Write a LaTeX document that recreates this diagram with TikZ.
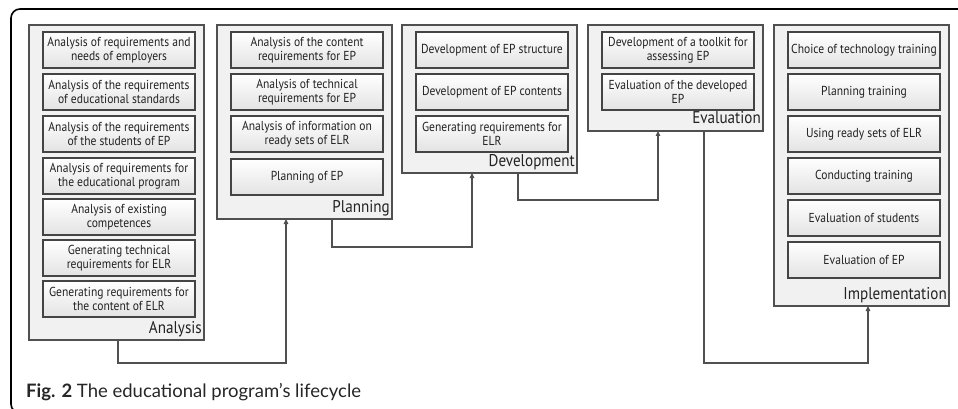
\documentclass[tikz,border=0pt]{standalone}
\usepackage{fontspec}
\setmainfont{Lato}
\newfontfamily\boxfont[FakeStretch=0.89]{PT Sans}
\usetikzlibrary{arrows.meta,calc}
\definecolor{edgegray}{HTML}{505050}
\definecolor{boxgray}{HTML}{444444}
\definecolor{panelfill}{HTML}{F1F1F1}
\definecolor{txt}{HTML}{222222}
\tikzset{
  panel/.style={draw=edgegray, line width=1.2pt, fill=panelfill, anchor=north west,
    inner sep=0pt, outer sep=0pt, minimum width=175pt},
  item/.style={draw=boxgray, line width=1.3pt, top color=white, bottom color=black!11,
    anchor=north west, inner sep=0pt, outer sep=0pt, minimum width=152pt, minimum height=36pt,
    align=center, text=txt, font=\boxfont\fontsize{13}{14}\selectfont},
  plabel/.style={anchor=base east, inner sep=0pt, text=txt, font=\boxfont\fontsize{17}{18}\selectfont},
  conn/.style={draw=edgegray, line width=1.1pt},
  arr/.style={conn, -{Triangle[length=5pt,width=4.5pt]}}
}
\begin{document}
\begin{tikzpicture}[x=1pt,y=-1pt]
\useasboundingbox (0,0) rectangle (958,409);
\fill[white] (0,0) rectangle (958,409);
% outer frame
\draw[line width=1.6pt, rounded corners=9pt] (960,9) -- (11,9) -- (11,413) -- (40,413);

% panels
\node[panel, minimum height=315pt] (A) at (29,25) {};
\node[panel, minimum height=194pt] (P) at (217,25) {};
\node[panel, minimum height=148pt] (D) at (402,25) {};
\node[panel, minimum height=106pt] (E) at (588,25) {};
\node[panel, minimum height=281pt] (I) at (774,25) {};

% Analysis items
\node[item] (a1) at (43,32)  {Analysis of requirements and\\needs of employers};
\node[item] (a2) at (43,74)  {Analysis of the requirements\\of educational standards};
\node[item] (a3) at (43,116) {Analysis of the requirements\\of the students of EP};
\node[item] (a4) at (43,158) {Analysis of requirements for\\the educational program};
\node[item] (a5) at (43,199) {Analysis of existing\\competences};
\node[item] (a6) at (43,240) {Generating technical\\requirements for ELR};
\node[item] (a7) at (43,281) {Generating requirements for\\the content of ELR};
\node[plabel] (la) at ($(A.south east)+(-2,-7)$) {Analysis};

% Planning items
\node[item] (p1) at (231,32)  {Analysis of the content\\requirements for EP};
\node[item] (p2) at (231,74)  {Analysis of technical\\requirements for EP};
\node[item] (p3) at (231,116) {Analysis of information on\\ready sets of ELR};
\node[item] (p4) at (231,159) {Planning of EP};
\node[plabel] (lp) at ($(P.south east)+(-2,-7)$) {Planning};

% Development items
\node[item] (d1) at (416,32)  {Development of EP structure};
\node[item] (d2) at (416,74)  {Development of EP contents};
\node[item] (d3) at (416,116) {Generating requirements for\\ELR};
\node[plabel] (ld) at ($(D.south east)+(-2,-7)$) {Development};

% Evaluation items
\node[item] (e1) at (602,32) {Development of a toolkit for\\assessing EP};
\node[item] (e2) at (602,74) {Evaluation of the developed\\EP};
\node[plabel] (le) at ($(E.south east)+(-2,-7)$) {Evaluation};

% Implementation items
\node[item] (i1) at (788,32)  {Choice of technology training};
\node[item] (i2) at (788,74)  {Planning training};
\node[item] (i3) at (788,116) {Using ready sets of ELR};
\node[item] (i4) at (788,158) {Conducting training};
\node[item] (i5) at (788,200) {Evaluation of students};
\node[item] (i6) at (788,242) {Evaluation of EP};
\node[plabel] (li) at ($(I.south east)+(-2,-7)$) {Implementation};

% connectors
\draw[arr] ($(A.south west)+(89,0)$) -- ++(0,23) -| ($(P.south west)+(69,0)$);
\draw[arr] ($(P.south west)+(115,0)$) -- ++(0,28) -| ($(D.south west)+(70,0)$);
\draw[arr] ($(D.south west)+(116,0)$) -- ++(0,27) -| ($(E.south west)+(70,0)$);
\draw[arr] ($(E.south west)+(116,0)$) -- ++(0,232) -| ($(I.south west)+(94,0)$);

% caption
\node[anchor=base west, inner sep=0pt, text=black!85, font=\fontsize{18.5}{20}\selectfont] (cap) at (26,397)
  {\textbf{Fig. 2} The educational program’s lifecycle};
\end{tikzpicture}
\end{document}
